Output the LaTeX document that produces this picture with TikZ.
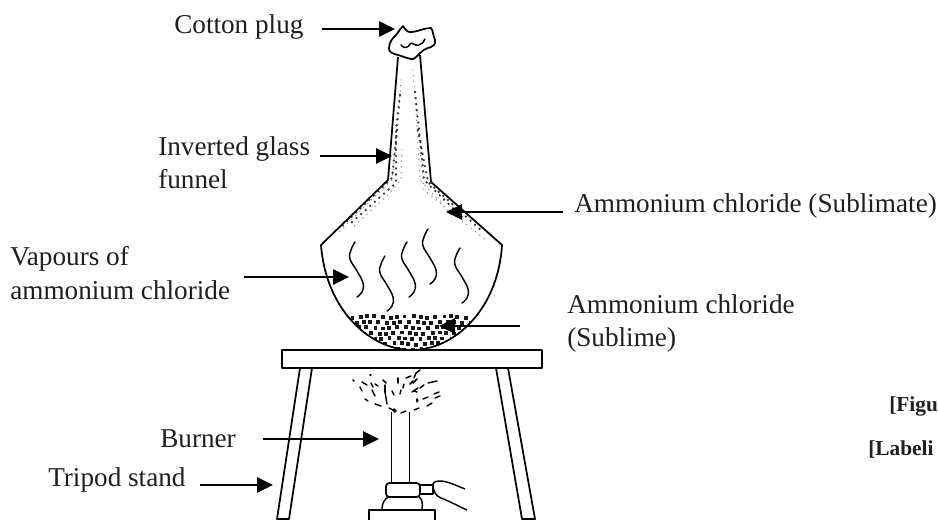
\documentclass[tikz,border=0pt]{standalone}
\usepackage{fontspec}
\setmainfont{Liberation Serif}
\usetikzlibrary{arrows.meta}
\tikzset{
  lbl/.style={anchor=base west,inner sep=0pt,font=\fontsize{20.4pt}{22pt}\selectfont,text=black!88},
  bf/.style={anchor=base west,inner sep=0pt,font=\fontsize{16pt}{20pt}\selectfont\bfseries,text=black!88},
  pointer/.style={line width=1.25pt,-{Triangle[length=12pt,width=11.5pt]}},
  outline/.style={line width=1.3pt,line join=round},
  thin outline/.style={line width=1.1pt,line join=round},
  vapour/.style={line width=1.1pt,line cap=round},
  flame/.style={line width=1.1pt,line cap=round},
  dotsa/.style={black!80,line width=1.9pt,line cap=round,dash pattern=on 0pt off 4.6pt},
  dotsb/.style={black!50,line width=1.1pt,line cap=round,dash pattern=on 0pt off 4.2pt},
}
\newcommand{\wave}[2]{\draw[vapour] plot[smooth,tension=0.75] coordinates {(#1,#2) (#1-4,#2+8) (#1-5,#2+17) (#1+2,#2+29) (#1+8,#2+41) (#1+7,#2+50) (#1+2,#2+55)};}
\begin{document}
\begin{tikzpicture}[x=0.75pt,y=-0.75pt]
\useasboundingbox[fill=white] (0,0) rectangle (938,520);
% sublimate dots
\draw[dotsb] (401,80) -- (398,125) -- (392,180) -- (338,233);
\draw[dotsa] (400,95) -- (396,130) -- (396,183) -- (350,224);
\draw[dotsa] (397,130) -- (392,178) -- (342,226);
\draw[dotsb] (402,150) -- (401,180) -- (388,195) -- (352,228);
\draw[dotsb] (413,70) -- (416,110) -- (420,180) -- (455,218);
\draw[dotsa] (415,92) -- (419,130) -- (424,180) -- (465,220);
\draw[dotsa] (418,130) -- (428,182) -- (484,233);
\draw[dotsb] (420,150) -- (424,190) -- (487,241);
% solid sublime
\begin{scope}
\clip (352,314) -- (470,314) -- (470,345) -- (412,352) -- (340,345) -- cycle;
\clip (322,246) .. controls (326,310) and (370,350) .. (412,350) .. controls (454,350) and (498,310) .. (502,246) -- cycle;
\foreach \r in {0,...,6}{
  \foreach \c in {0,...,16}{
    \pgfmathsetmacro{\px}{352+\c*7.6+mod(\r,2)*3.8+1.2*sin(\c*97+\r*53)}
    \pgfmathsetmacro{\py}{317+\r*5.4+0.8*cos(\c*71+\r*31)}
    \fill[black!90] (\px-1.9,\py-1.9) rectangle (\px+1.9,\py+1.9);
  }
}
\end{scope}
% funnel
\draw[outline] (398,57) -- (388,180) -- (321,245) .. controls (326,310) and (370,350) .. (412,350)
  .. controls (454,350) and (498,310) .. (502,245) -- (431,182) -- (420,55);
% plug
\draw[outline,fill=white] (403,26) .. controls (406,31) and (409,33) .. (412,32) .. controls (420,31) and (424,28) .. (431,28)
  .. controls (434,32) and (432,34) .. (434,37) .. controls (436,41) and (436,45) .. (431,47)
  .. controls (425,49) and (423,50) .. (420,53) .. controls (416,57) and (414,60) .. (411,59)
  .. controls (406,58) and (402,56) .. (398,55) .. controls (393,54) and (389,52) .. (389,49)
  .. controls (389,45) and (390,42) .. (393,38) .. controls (397,35) and (399,30) .. (403,26) -- cycle;
\draw[thin outline,line cap=round] (401,45) .. controls (404,49) and (408,48) .. (410,44) .. controls (412,41) and (415,47) .. (419,45) .. controls (422,44) and (424,42) .. (425,39);
% vapours
\wave{355}{242}
\wave{385}{256}
\wave{407}{242}
\wave{428}{229}
\wave{460}{248}
% table
\draw[outline] (282,350) rectangle (542,368);
\draw[outline] (300,368) -- (277,519) -- (289,519) -- (312,368);
\draw[outline] (496,368) -- (522,519) -- (535,519) -- (508,368);
% burner
\draw[thin outline] (391.7,412) -- (391.7,483);
\draw[thin outline] (409.7,412) -- (409.7,483);
\draw[outline,rounded corners=2.5pt] (386,483) rectangle (420,497);
\draw[thin outline] (420,485) rectangle (433,494);
\draw[thin outline] (382,509) .. controls (382,503) and (385,499) .. (388,497);
\draw[thin outline] (422,509) .. controls (423,503) and (422,499) .. (419,497);
\draw[outline] (369,519.5) -- (369,510) -- (435,510) -- (435,519.5);
\draw[thin outline] (465,489) .. controls (455,485) and (447,481) .. (440,481) .. controls (434,481) and (432,483) .. (433,487) .. controls (434,492) and (436,496) .. (441,498) .. controls (449,501) and (458,506) .. (467,510);
% flame
\foreach \a/\b/\c/\d in {
 353/380/354/381, 370/375/371/375, 362/382/367/385, 371/383/373/387, 375/384/378/386, 383/380/386/383,
 360/387/362/391, 372/390/375/396, 385/385/385/392, 385/392/387/404, 398/378/398/383, 406/378/411/376,
 392/391/394/395, 400/394/401/390, 403/388/404/384, 412/392/418/388, 410/384/413/381, 420/388/424/385,
 428/383/437/381, 420/370/416/373, 416/373/414/378, 417/379/413/383, 417/392/414/391,
 417/399/417/401, 423/399/428/397, 434/394/439/392, 435/398/440/396, 418/400/417/402,
 365/399/368/401, 375/404/381/406, 389/408/393/410, 395/412/393/410, 401/413/406/411, 414/410/419/408, 427/406/432/403, 396/411/394/409}
  {\draw[flame] (\a,\b) -- (\c,\d);}
% labels and pointers
\node[lbl] (lplug) at (174,34) {Cotton plug};
\coordinate (splug) at (322,29); \coordinate (tplug) at (395,29);
\draw[pointer] (splug) -- (tplug);
\node[lbl] (lfun) at (158,156) {Inverted glass};
\node[lbl] (lfunb) at (158,189) {funnel};
\coordinate (sfun) at (320,156); \coordinate (tfun) at (392,156);
\draw[pointer] (sfun) -- (tfun);
\node[lbl] (lsub) at (574,213) {Ammonium chloride (Sublimate)};
\coordinate (ssub) at (563,212); \coordinate (tsub) at (446,212);
\draw[pointer] (ssub) -- (tsub);
\node[lbl] (lvap) at (10,266) {Vapours of};
\node[lbl] (lvapb) at (10,299) {ammonium chloride};
\coordinate (svap) at (244,277); \coordinate (tvap) at (349,277);
\draw[pointer] (svap) -- (tvap);
\node[lbl] (lsol) at (567,313) {Ammonium chloride};
\node[lbl] (lsolb) at (567,346) {(Sublime)};
\coordinate (ssol) at (520,326); \coordinate (tsol) at (439,326);
\draw[pointer] (ssol) -- (tsol);
\node[lbl] (lbur) at (160,447) {Burner};
\coordinate (sbur) at (263,439); \coordinate (tbur) at (379,439);
\draw[pointer] (sbur) -- (tbur);
\node[lbl] (ltri) at (48,486) {Tripod stand};
\coordinate (stri) at (200,485); \coordinate (ttri) at (273,485);
\draw[pointer] (stri) -- (ttri);
\node[bf] (fig) at (889,411) {[Figu};
\node[bf] (lab) at (868,455) {[Labeli};
\end{tikzpicture}
\end{document}
